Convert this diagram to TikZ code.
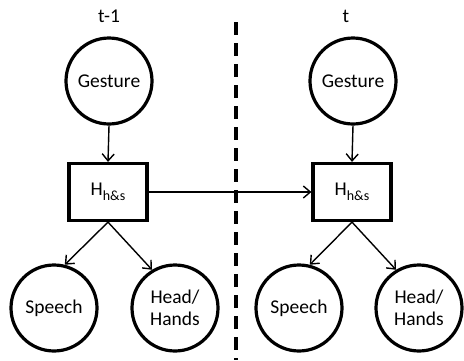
\documentclass[tikz,border=0pt]{standalone}
\usepackage{fontspec}
\setmainfont{Carlito}
\usetikzlibrary{arrows.meta}
\begin{document}
\begin{tikzpicture}[x=1pt,y=-1pt,
  every node/.style={font=\fontsize{19.5}{22}\selectfont},
  var/.style={circle,draw,line width=3.2pt,minimum size=86pt,inner sep=0pt,align=center},
  hid/.style={rectangle,draw,line width=3.2pt,minimum width=78pt,minimum height=57pt,inner sep=0pt},
  conn/.style={line width=1.4pt,-{Straight Barb[length=7pt,width=12pt,line width=1.4pt]}},
  lbl/.style={inner sep=0pt}]
\useasboundingbox (0,0) rectangle (464,360);
\newcommand{\hhs}{H{\fontsize{14}{14}\selectfont\raisebox{-5pt}{h\&s}}}
% left slice
\node[lbl] (tl) at (109,16) {t-1};
\node[var] (g1) at (109,81) {Gesture};
\node[hid] (h1) at (108,192) {\hhs};
\node[var] (s1) at (54,308) {Speech};
\node[var] (hh1) at (175,308) {Head/\\Hands};
% right slice
\node[lbl] (tr) at (346,16) {t};
\node[var] (g2) at (353,81) {Gesture};
\node[hid] (h2) at (352,192) {\hhs};
\node[var] (s2) at (299,308) {Speech};
\node[var] (hh2) at (419,308) {Head/\\Hands};
% divider
\coordinate (d1) at (236,22);
\coordinate (d2) at (236,360);
\draw[line width=3.2pt,dash pattern=on 13pt off 8pt] (d1) -- (d2);
% connectors
\draw[conn] (g1.south) -- (h1.north);
\draw[conn] (g2.south) -- (h2.north);
\draw[conn] (h1.south) -- (s1.76);
\draw[conn] (h1.south) -- (hh1.121);
\draw[conn] (h2.south) -- (s2.76);
\draw[conn] (h2.south) -- (hh2.121);
\draw[conn] (h1.east) -- (h2.west);
\end{tikzpicture}
\end{document}
